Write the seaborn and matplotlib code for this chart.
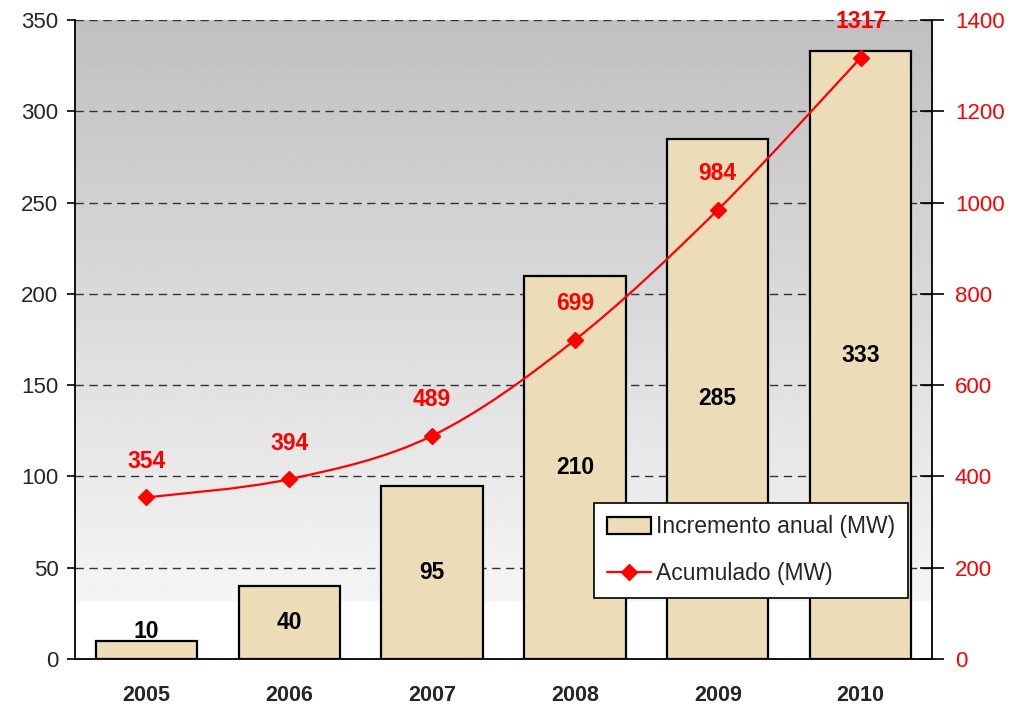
import numpy as np
import pandas as pd
import seaborn as sns
import matplotlib.pyplot as plt
from matplotlib.path import Path
from matplotlib.patches import PathPatch, Patch
from matplotlib.lines import Line2D

# data
years = ["2005", "2006", "2007", "2008", "2009", "2010"]
incremento = [10, 40, 95, 210, 285, 333]
acumulado = [354, 394, 489, 699, 984, 1317]

df = pd.DataFrame({"year": years, "incremento": incremento, "acumulado": acumulado})

sns.set_theme(style="white")
plt.rcParams['font.family'] = ['Liberation Sans', 'DejaVu Sans']

bar_color = "#eddcb8"

fig = plt.figure(figsize=(10.1, 7.06), dpi=100)
ax = fig.add_axes([75/1010, 1 - 659/706, 857/1010, 639/706])

# gray -> white background gradient
yy = np.linspace(0, 1, 400)
shade = np.where(yy < 0.088, 1.0, (245 - (yy - 0.088) / 0.912 * 53) / 255)
ax.imshow(shade[::-1].reshape(-1, 1), extent=[0, 1, 0, 1], transform=ax.transAxes,
          aspect="auto", cmap="gray", vmin=0, vmax=1, zorder=0)

sns.barplot(data=df, x="year", y="incremento", color=bar_color, saturation=1,
            edgecolor="black", linewidth=1.6, width=0.71, ax=ax, zorder=2)

ax.set_xlim(-0.5, 5.5)
ax.set_ylim(0, 350)
ax.set_yticks(range(0, 351, 50))
ax.set_xlabel("")
ax.set_ylabel("")
ax.yaxis.grid(True, linestyle=(0, (6, 4)), color="#333333", lw=1)
ax.set_axisbelow(True)

for i, v in enumerate(incremento):
    ax.text(i, max(v / 2, 15), str(v), ha="center", va="center",
            fontweight="bold", fontsize=16.5, color="black", zorder=3)

ax.set_xticks(np.arange(-0.5, 6, 1), minor=True)
ax.tick_params(axis="x", which="major", length=0, pad=19, labelsize=15.5)
ax.tick_params(axis="x", which="minor", length=11, width=1.2, direction="inout", color="black")
for lbl in ax.get_xticklabels():
    lbl.set_fontweight("bold")
ax.tick_params(axis="y", length=6, width=1.2, direction="out", color="black",
               labelsize=16, pad=6, left=True)

for s in ["top", "right"]:
    ax.spines[s].set_visible(False)
for s in ["left", "bottom"]:
    ax.spines[s].set_color("black")
    ax.spines[s].set_linewidth(1.3)

# cumulative line on the right axis
ax2 = ax.twinx()
ax2.set_ylim(0, 1400)
ax2.set_yticks(range(0, 1401, 200))
ax2.tick_params(axis="y", length=17, width=1.2, direction="inout", color="black",
                labelsize=16, labelcolor="red", pad=8, right=True)
for s in ["top", "left", "bottom"]:
    ax2.spines[s].set_visible(False)
ax2.spines["right"].set_color("black")
ax2.spines["right"].set_linewidth(1.3)

# smoothed line (Excel-style) through the points
xs = list(range(len(acumulado)))
pts = list(zip(xs, acumulado))
ext = [pts[0]] + pts + [pts[-1]]
verts = [pts[0]]
codes = [Path.MOVETO]
for k in range(1, len(ext) - 2):
    p0, p1, p2, p3 = ext[k - 1], ext[k], ext[k + 1], ext[k + 2]
    c1 = (p1[0] + (p2[0] - p0[0]) / 6, p1[1] + (p2[1] - p0[1]) / 6)
    c2 = (p2[0] - (p3[0] - p1[0]) / 6, p2[1] - (p3[1] - p1[1]) / 6)
    verts += [c1, c2, p2]
    codes += [Path.CURVE4] * 3
ax2.add_patch(PathPatch(Path(verts, codes), facecolor="none", edgecolor="red", lw=1.6, zorder=3))
ax2.plot(xs, acumulado, linestyle="none", marker="D", markersize=8, color="red", zorder=4)

for i, v in enumerate(acumulado):
    ax2.annotate(str(v), (i, v), xytext=(0, 26), textcoords="offset points",
                 ha="center", va="center", color="red", fontweight="bold", fontsize=16.5)

handles = [Patch(facecolor=bar_color, edgecolor="black", linewidth=1.6),
           Line2D([], [], color="red", marker="D", markersize=8, lw=1.6)]
leg = ax2.legend(handles, ["Incremento anual (MW)", "Acumulado (MW)"],
                 loc="lower right", bbox_to_anchor=(0.972, 0.0955), fontsize=16.5,
                 frameon=True, fancybox=False, framealpha=1, edgecolor="black",
                 handlelength=1.9, handleheight=0.75, labelspacing=1.05,
                 borderpad=0.55, handletextpad=0.25, borderaxespad=0)
leg.get_frame().set_linewidth(1.2)
leg.set_zorder(10)

fig.savefig("out.png", dpi=100)
